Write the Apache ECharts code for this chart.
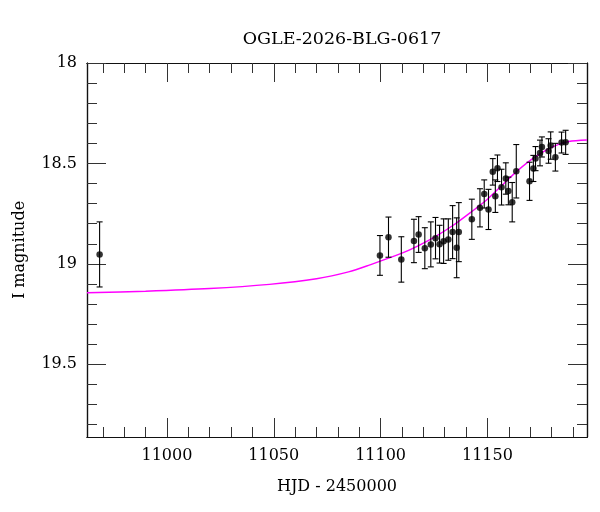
<!DOCTYPE html>
<html>
<head>
<meta charset="utf-8">
<script src="https://cdn.jsdelivr.net/npm/echarts@6/dist/echarts.min.js"></script>
<style>
html, body { margin: 0; padding: 0; background: #fff; }
#main { width: 600px; height: 512px; }
</style>
</head>
<body>
<div id="main"></div>
<script>
// photometry (HJD - 2450000, I mag, error)
var hjd = [10968.5, 11099.7, 11103.7, 11109.7, 11115.6, 11117.8, 11120.7, 11123.5, 11125.7, 11127.6,
  11129.5, 11131.7, 11133.7, 11135.6, 11136.6, 11142.7, 11146.5, 11148.5, 11150.5, 11152.5,
  11153.7, 11154.7, 11156.6, 11158.6, 11159.8, 11161.6, 11163.5, 11169.7, 11171.5, 11172.5,
  11174.6, 11175.5, 11178.6, 11179.6, 11181.8, 11184.7, 11186.6];
var imag = [18.953, 18.958, 18.867, 18.978, 18.886, 18.854, 18.922, 18.903, 18.872, 18.902,
  18.887, 18.879, 18.842, 18.920, 18.842, 18.778, 18.721, 18.652, 18.729, 18.542,
  18.663, 18.524, 18.618, 18.575, 18.637, 18.693, 18.539, 18.589, 18.525, 18.476,
  18.448, 18.418, 18.438, 18.411, 18.469, 18.396, 18.395];
var ierr = [0.162, 0.099, 0.100, 0.113, 0.108, 0.089, 0.102, 0.112, 0.103, 0.094,
  0.111, 0.103, 0.132, 0.149, 0.147, 0.100, 0.095, 0.070, 0.100, 0.066,
  0.081, 0.066, 0.089, 0.078, 0.069, 0.098, 0.133, 0.095, 0.065, 0.060,
  0.064, 0.050, 0.061, 0.068, 0.069, 0.052, 0.060];

// model light curve
var modelHjd = [10962.6, 10990, 11020, 11048, 11070, 11085, 11095, 11110, 11118, 11126,
  11134, 11142, 11150, 11157, 11164, 11172, 11180, 11188, 11196.6];
var modelMag = [19.144, 19.136, 19.123, 19.102, 19.074, 19.040, 19.005, 18.947, 18.908, 18.862,
  18.808, 18.745, 18.678, 18.607, 18.537, 18.470, 18.420, 18.391, 18.383];

var xMajor = [11000, 11050, 11100, 11150];
var xMinor = [10970, 10980, 10990, 11010, 11020, 11030, 11040, 11060, 11070, 11080, 11090,
  11110, 11120, 11130, 11140, 11160, 11170, 11180, 11190];
var yMajor = [18, 18.5, 19, 19.5];
var yMinor = [18.1, 18.2, 18.3, 18.4, 18.6, 18.7, 18.8, 18.9, 19.1, 19.2, 19.3, 19.4,
  19.6, 19.7, 19.8];

var font = 'DejaVu Serif';
var xRange = [10962.6, 11196.6];
var yRange = [18, 19.862];

function plain(v) { return String(v); }

function xAx(grid, pos, ticks, len, labels) {
  return {
    type: 'value', gridIndex: grid, position: pos,
    min: xRange[0], max: xRange[1],
    axisLine: { show: true, onZero: false, lineStyle: { color: '#111', width: 1.2 } },
    axisTick: { show: true, inside: true, length: len, customValues: ticks,
      lineStyle: { color: '#333', width: 1 } },
    axisLabel: { show: labels, customValues: ticks, margin: 11, formatter: plain,
      color: '#000', fontFamily: font, fontSize: 16 },
    splitLine: { show: false }
  };
}
function yAx(grid, pos, ticks, len, labels) {
  return {
    type: 'value', gridIndex: grid, position: pos, inverse: true,
    min: yRange[0], max: yRange[1],
    axisLine: { show: true, onZero: false, lineStyle: { color: '#111', width: 1.2 } },
    axisTick: { show: true, inside: true, length: len, customValues: ticks,
      lineStyle: { color: '#333', width: 1 } },
    axisLabel: { show: labels, customValues: ticks, margin: 10, formatter: plain,
      color: '#000', fontFamily: font, fontSize: 16 },
    splitLine: { show: false }
  };
}

var points = [];
var bars = [];
for (var i = 0; i < hjd.length; i++) {
  points.push([hjd[i], imag[i]]);
  bars.push([hjd[i], imag[i] - ierr[i], imag[i] + ierr[i]]);
}
var model = [];
for (var j = 0; j < modelHjd.length; j++) {
  model.push([modelHjd[j], modelMag[j]]);
}

var xb = xAx(0, 'bottom', xMajor, 19, true);
xb.name = 'HJD - 2450000';
xb.nameLocation = 'middle';
xb.nameGap = 42;
xb.nameTextStyle = { color: '#000', fontFamily: font, fontSize: 16 };
var yl = yAx(0, 'left', yMajor, 19, true);
yl.name = 'I magnitude';
yl.nameLocation = 'middle';
yl.nameGap = 59;
yl.nameTextStyle = { color: '#000', fontFamily: font, fontSize: 16 };

var myChart = echarts.init(document.getElementById('main'));
myChart.setOption({
  animation: false,
  backgroundColor: '#fff',
  title: {
    text: 'OGLE-2026-BLG-0617', left: 337, top: 25, textAlign: 'center',
    textStyle: { color: '#000', fontFamily: font, fontSize: 17.5, fontWeight: 'normal' }
  },
  grid: [
    { left: 87, right: 13, top: 63, bottom: 75 },
    { left: 87, right: 13, top: 63, bottom: 75 }
  ],
  xAxis: [
    xb,
    xAx(0, 'top', xMajor, 19, false),
    xAx(1, 'bottom', xMinor, 10, false),
    xAx(1, 'top', xMinor, 10, false)
  ],
  yAxis: [
    yl,
    yAx(0, 'right', yMajor, 19, false),
    yAx(1, 'left', yMinor, 10, false),
    yAx(1, 'right', yMinor, 10, false)
  ],
  series: [
    {
      type: 'line', xAxisIndex: 0, yAxisIndex: 0,
      data: model, smooth: 0.3, showSymbol: false,
      lineStyle: { color: '#ff00ff', width: 1.4 }, z: 3
    },
    {
      type: 'custom', xAxisIndex: 0, yAxisIndex: 0,
      data: bars, z: 4,
      renderItem: function (params, api) {
        var top = api.coord([api.value(0), api.value(1)]);
        var bot = api.coord([api.value(0), api.value(2)]);
        var st = { stroke: '#000', lineWidth: 1.1 };
        return {
          type: 'group',
          children: [
            { type: 'line', shape: { x1: top[0], y1: top[1], x2: bot[0], y2: bot[1] }, style: st },
            { type: 'line', shape: { x1: top[0] - 3, y1: top[1], x2: top[0] + 3, y2: top[1] }, style: st },
            { type: 'line', shape: { x1: bot[0] - 3, y1: bot[1], x2: bot[0] + 3, y2: bot[1] }, style: st }
          ]
        };
      }
    },
    {
      type: 'scatter', xAxisIndex: 0, yAxisIndex: 0,
      data: points, symbolSize: 6.5, z: 5,
      itemStyle: { color: '#000' }
    }
  ]
});
</script>
</body>
</html>
